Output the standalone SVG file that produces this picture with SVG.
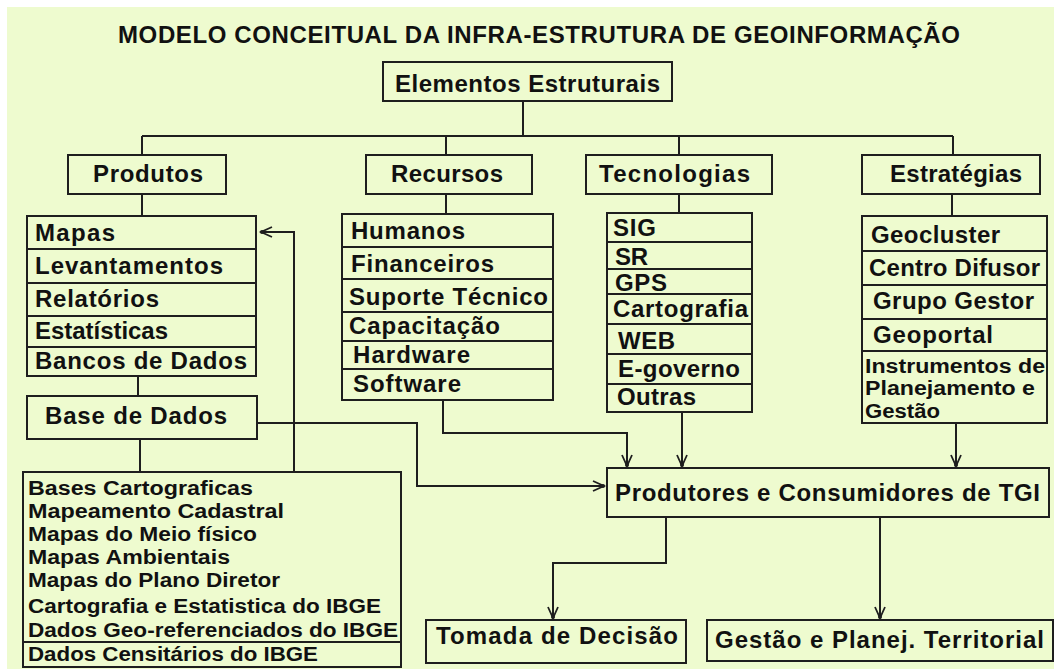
<svg xmlns="http://www.w3.org/2000/svg" width="1054" height="669" viewBox="0 0 1054 669">
<style>
  text { font-family: "Liberation Sans", Arial, sans-serif; font-weight: bold; fill: #111; }
  .t22 { font-size: 24px; }
  .t20 { font-size: 20px; }
  .t19 { font-size: 20px; }
  .box { fill: none; stroke: #1e1e1e; stroke-width: 2; }
  .sep { stroke: #1e1e1e; stroke-width: 2; }
  .ln { fill: none; stroke: #1e1e1e; stroke-width: 2; }
  .arr { fill: none; stroke: #1e1e1e; stroke-width: 2; marker-end: url(#arrow); }
</style>
<defs>
  <marker id="arrow" markerUnits="userSpaceOnUse" viewBox="-13 -8 16 16" refX="0" refY="0" markerWidth="16" markerHeight="16" orient="auto">
    <path d="M-11,-5 L0,0 L-11,5" fill="none" stroke="#1e1e1e" stroke-width="1.8"/>
    <circle cx="-1" cy="0" r="2" fill="#1e1e1e"/>
  </marker>
</defs>
<rect x="0" y="0" width="1054" height="669" fill="#ffffff"/>
<rect x="7" y="7" width="1047" height="662" fill="#EEFBCF"/>

<text id="title" x="118" y="43" style="font-size:24px" textLength="842" lengthAdjust="spacing">MODELO CONCEITUAL DA INFRA-ESTRUTURA  DE GEOINFORMAÇÃO</text>

<g id="connectors">
  <path class="ln" d="M523,101 V136"/>
  <path class="ln" d="M142,136 H953"/>
  <path class="ln" d="M142,136 V155"/>
  <path class="ln" d="M446,136 V155"/>
  <path class="ln" d="M679,136 V155"/>
  <path class="ln" d="M953,136 V155"/>
  <path class="ln" d="M142,194 V216"/>
  <path class="ln" d="M446,194 V214"/>
  <path class="ln" d="M679,194 V213"/>
  <path class="ln" d="M952,194 V216"/>
  <path class="ln" d="M138,376 V396"/>
  <path class="ln" d="M140,439 V472"/>
  <path class="arr" d="M294,472 V232 H261"/>
  <path class="arr" d="M257,423 H417 V486 H604"/>
  <path class="arr" d="M443,400 V433 H627 V466"/>
  <path class="arr" d="M682,412 V466"/>
  <path class="arr" d="M956,423 V466"/>
  <path class="arr" d="M666,517 V563 H553 V618"/>
  <path class="arr" d="M880,517 V618"/>
</g>

<g id="elementos">
  <rect class="box" x="383" y="62" width="289" height="39"/>
  <text class="t22" x="395" y="92" textLength="265" lengthAdjust="spacing">Elementos Estruturais</text>
</g>

<g id="produtos">
  <rect class="box" x="68" y="155" width="158" height="39"/>
  <text class="t22" x="93" y="182" textLength="110" lengthAdjust="spacing">Produtos</text>
</g>
<g id="recursos">
  <rect class="box" x="366" y="155" width="166" height="39"/>
  <text class="t22" x="391" y="182" textLength="112" lengthAdjust="spacing">Recursos</text>
</g>
<g id="tecnologias">
  <rect class="box" x="586" y="155" width="186" height="39"/>
  <text class="t22" x="599" y="182" textLength="151" lengthAdjust="spacing">Tecnologias</text>
</g>
<g id="estrategias">
  <rect class="box" x="862" y="155" width="178" height="39"/>
  <text class="t22" x="890" y="182" textLength="132" lengthAdjust="spacing">Estratégias</text>
</g>

<g id="lista-produtos">
  <rect class="box" x="27" y="216" width="229" height="160"/>
  <line class="sep" x1="27" y1="249" x2="256" y2="249"/>
  <line class="sep" x1="27" y1="283" x2="256" y2="283"/>
  <line class="sep" x1="27" y1="316" x2="256" y2="316"/>
  <line class="sep" x1="27" y1="347" x2="256" y2="347"/>
  <text class="t22" x="35" y="241" textLength="80" lengthAdjust="spacing">Mapas</text>
  <text class="t22" x="35" y="274" textLength="188" lengthAdjust="spacing">Levantamentos</text>
  <text class="t22" x="35" y="307" textLength="124" lengthAdjust="spacing">Relatórios</text>
  <text class="t22" x="35" y="339" textLength="133" lengthAdjust="spacing">Estatísticas</text>
  <text class="t22" x="35" y="369" textLength="212" lengthAdjust="spacing">Bancos de Dados</text>
</g>

<g id="lista-recursos">
  <rect class="box" x="342" y="214" width="211" height="186"/>
  <line class="sep" x1="342" y1="247" x2="553" y2="247"/>
  <line class="sep" x1="342" y1="279" x2="553" y2="279"/>
  <line class="sep" x1="342" y1="312" x2="553" y2="312"/>
  <line class="sep" x1="342" y1="341" x2="553" y2="341"/>
  <line class="sep" x1="342" y1="369" x2="553" y2="369"/>
  <text class="t22" x="351" y="239" textLength="114" lengthAdjust="spacing">Humanos</text>
  <text class="t22" x="351" y="272" textLength="143" lengthAdjust="spacing">Financeiros</text>
  <text class="t22" x="349" y="305" textLength="199" lengthAdjust="spacing">Suporte Técnico</text>
  <text class="t22" x="349" y="334" textLength="151" lengthAdjust="spacing">Capacitação</text>
  <text class="t22" x="353" y="363" textLength="117" lengthAdjust="spacing">Hardware</text>
  <text class="t22" x="353" y="392" textLength="108" lengthAdjust="spacing">Software</text>
</g>

<g id="lista-tecnologias">
  <rect class="box" x="607" y="213" width="145" height="199"/>
  <line class="sep" x1="607" y1="242" x2="752" y2="242"/>
  <line class="sep" x1="607" y1="269" x2="752" y2="269"/>
  <line class="sep" x1="607" y1="294" x2="752" y2="294"/>
  <line class="sep" x1="607" y1="324" x2="752" y2="324"/>
  <line class="sep" x1="607" y1="354" x2="752" y2="354"/>
  <line class="sep" x1="607" y1="384" x2="752" y2="384"/>
  <text class="t22" x="613" y="236" textLength="43" lengthAdjust="spacing">SIG</text>
  <text class="t22" x="615" y="265" textLength="33" lengthAdjust="spacing">SR</text>
  <text class="t22" x="615" y="291" textLength="52" lengthAdjust="spacing">GPS</text>
  <text class="t22" x="613" y="317" textLength="135" lengthAdjust="spacing">Cartografia</text>
  <text class="t22" x="618" y="349" textLength="57" lengthAdjust="spacing">WEB</text>
  <text class="t22" x="618" y="377" textLength="122" lengthAdjust="spacing">E-governo</text>
  <text class="t22" x="617" y="405" textLength="79" lengthAdjust="spacing">Outras</text>
</g>

<g id="lista-estrategias">
  <rect class="box" x="862" y="216" width="185" height="207"/>
  <line class="sep" x1="862" y1="251" x2="1047" y2="251"/>
  <line class="sep" x1="862" y1="285" x2="1047" y2="285"/>
  <line class="sep" x1="862" y1="319" x2="1047" y2="319"/>
  <line class="sep" x1="862" y1="351" x2="1047" y2="351"/>
  <text class="t22" x="871" y="243" textLength="129" lengthAdjust="spacing">Geocluster</text>
  <text class="t22" x="869" y="276" textLength="171" lengthAdjust="spacing">Centro Difusor</text>
  <text class="t22" x="873" y="309" textLength="161" lengthAdjust="spacing">Grupo Gestor</text>
  <text class="t22" x="873" y="343" textLength="120" lengthAdjust="spacing">Geoportal</text>
  <text class="t20" x="865" y="373" textLength="180" lengthAdjust="spacingAndGlyphs">Instrumentos de</text>
  <text class="t20" x="865" y="395" textLength="170" lengthAdjust="spacingAndGlyphs">Planejamento e</text>
  <text class="t20" x="865" y="418" textLength="75" lengthAdjust="spacingAndGlyphs">Gestão</text>
</g>

<g id="base-dados">
  <rect class="box" x="27" y="396" width="230" height="43"/>
  <text class="t22" x="45" y="424" textLength="182" lengthAdjust="spacing">Base de Dados</text>
</g>

<g id="lista-bases">
  <rect class="box" x="23" y="472" width="378" height="195"/>
  <line class="sep" x1="23" y1="642" x2="401" y2="642"/>
  <text class="t19" x="28" y="495" textLength="225" lengthAdjust="spacingAndGlyphs">Bases Cartograficas</text>
  <text class="t19" x="28" y="518" textLength="256" lengthAdjust="spacingAndGlyphs">Mapeamento Cadastral</text>
  <text class="t19" x="28" y="541" textLength="229" lengthAdjust="spacingAndGlyphs">Mapas do Meio físico</text>
  <text class="t19" x="28" y="564" textLength="202" lengthAdjust="spacingAndGlyphs">Mapas Ambientais</text>
  <text class="t19" x="28" y="587" textLength="252" lengthAdjust="spacingAndGlyphs">Mapas do Plano Diretor</text>
  <text class="t20" x="28" y="613" textLength="353" lengthAdjust="spacingAndGlyphs">Cartografia e Estatistica do IBGE</text>
  <text class="t20" x="28" y="637" textLength="370" lengthAdjust="spacingAndGlyphs">Dados Geo-referenciados do IBGE</text>
  <text class="t20" x="28" y="661" textLength="290" lengthAdjust="spacingAndGlyphs">Dados Censitários do IBGE</text>
</g>

<g id="produtores">
  <rect class="box" x="607" y="468" width="442" height="49"/>
  <text class="t22" x="615" y="501" textLength="425" lengthAdjust="spacing">Produtores e Consumidores de TGI</text>
</g>

<g id="tomada">
  <rect class="box" x="426" y="620" width="260" height="43"/>
  <text class="t22" x="436" y="644" textLength="242" lengthAdjust="spacing">Tomada de Decisão</text>
</g>

<g id="gestao">
  <rect class="box" x="707" y="620" width="346" height="41"/>
  <text class="t22" x="715" y="648" textLength="329" lengthAdjust="spacing">Gestão e Planej. Territorial</text>
</g>
</svg>
